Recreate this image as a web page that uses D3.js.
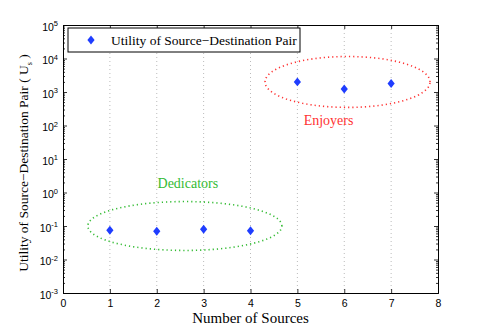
<!DOCTYPE html>
<html>
<head>
<meta charset="utf-8">
<script src="https://cdn.jsdelivr.net/npm/d3@7"></script>
<style>
  body { margin: 0; background: #fff; }
  svg { display: block; }
  text.serif { font-family: 'Liberation Serif', 'Times New Roman', serif !important; }
</style>
</head>
<body>
<svg width="485" height="331"></svg>
<script>
const sources = [1, 2, 3, 4, 5, 6, 7];
const utility = [0.075, 0.07, 0.08, 0.072, 2000, 1230, 1800];
const xTicks = [0, 1, 2, 3, 4, 5, 6, 7, 8];
const yExponents = [-3, -2, -1, 0, 1, 2, 3, 4, 5];
// groups: [label, center x, center log10 y, half width (x units), half height (decades), colour]
const groups = [
    ['Dedicators', 2.6, -1.0, 2.07, 0.73, '#33bb33'],
    ['Enjoyers', 6.07, 3.3, 1.76, 0.76, '#ff3333']
];

const SANS = "'Liberation Sans', Arial, sans-serif";

const margin = {left: 63, top: 25, right: 47, bottom: 38};
const width = 485 - margin.left - margin.right;
const height = 331 - margin.top - margin.bottom;

const svg = d3.select('svg');
const g = svg.append('g').attr('transform', `translate(${margin.left},${margin.top})`);

const x = d3.scaleLinear().domain([0, 8]).range([0, width]);
const y = d3.scaleLog().domain([1e-3, 1e5]).range([height, 0]);

// vertical dotted grid
g.selectAll('line.grid')
    .data(sources)
    .enter().append('line')
    .attr('x1', d => x(d)).attr('x2', d => x(d))
    .attr('y1', 0).attr('y2', height)
    .attr('stroke', '#bbb')
    .attr('stroke-width', 1)
    .attr('stroke-dasharray', '1,3');

// minor log ticks
const minor = [];
yExponents.slice(0, -1).forEach(e => {
    for (let k = 2; k <= 9; k++) minor.push(k * Math.pow(10, e));
});

const xAxis = d3.axisBottom(x).tickValues(xTicks).tickSize(-4).tickPadding(7).tickFormat(d3.format('d'));
const xTop = d3.axisTop(x).tickValues(xTicks).tickSize(-4).tickFormat('');
const yAxis = d3.axisLeft(y).tickValues(yExponents.map(e => Math.pow(10, e))).tickSize(-4).tickFormat('');
const yRight = d3.axisRight(y).tickValues(yExponents.map(e => Math.pow(10, e))).tickSize(-4).tickFormat('');
const yMinorL = d3.axisLeft(y).tickValues(minor).tickSize(-2).tickFormat('');
const yMinorR = d3.axisRight(y).tickValues(minor).tickSize(-2).tickFormat('');

function styleAxis(sel) {
    sel.attr('font-family', SANS).attr('font-size', 10.5);
    sel.select('.domain').attr('stroke', '#000').attr('stroke-width', 1);
    sel.selectAll('.tick line').attr('stroke', '#000').attr('stroke-width', 0.8);
    sel.selectAll('.tick text').attr('fill', '#000');
}

g.append('g').attr('transform', `translate(0,${height})`).call(xAxis).call(styleAxis);
g.append('g').call(xTop).call(styleAxis);
const yl = g.append('g').call(yAxis).call(styleAxis);
g.append('g').attr('transform', `translate(${width},0)`).call(yRight).call(styleAxis);
g.append('g').call(yMinorL).call(styleAxis).select('.domain').remove();
g.append('g').attr('transform', `translate(${width},0)`).call(yMinorR).call(styleAxis).select('.domain').remove();

// y tick labels as 10 with superscript exponent
yl.selectAll('.tick').each(function (d) {
    const t = d3.select(this).append('text')
        .attr('x', -13).attr('dy', '0.5em')
        .attr('text-anchor', 'end')
        .attr('fill', '#000');
    t.append('tspan').text('10');
    t.append('tspan').attr('dy', '-0.6em').attr('font-size', '7.5px').text(Math.round(Math.log10(d)));
    t.attr('transform', 'translate(8,0)');
});

// ellipses (drawn in data space)
groups.forEach(([label, cx, cy, rx, ry, colour]) => {
    const pts = d3.range(0, 2 * Math.PI + 0.01, Math.PI / 60).map(a => [
        x(cx + rx * Math.cos(a)),
        y(Math.pow(10, cy + ry * Math.sin(a)))
    ]);
    g.append('path')
        .attr('d', d3.line()(pts))
        .attr('fill', 'none')
        .attr('stroke', colour)
        .attr('stroke-width', 1.6)
        .attr('stroke-dasharray', '1.2,3');
});

// group labels
g.append('text').attr('class', 'serif')
    .attr('x', x(groups[0][1]) + 3).attr('y', y(Math.pow(10, groups[0][2] + groups[0][4])) - 14)
    .attr('text-anchor', 'middle').attr('font-size', '14px').attr('fill', groups[0][5])
    .text(groups[0][0]);
g.append('text').attr('class', 'serif')
    .attr('x', x(groups[1][1]) - 19).attr('y', y(Math.pow(10, groups[1][2] - groups[1][4])) + 18)
    .attr('text-anchor', 'middle').attr('font-size', '14px').attr('fill', groups[1][5])
    .text(groups[1][0]);

// data markers
const diamond = d3.symbol().type(d3.symbolDiamond).size(34);
const markerScale = 'scale(1.15,0.82)';
g.selectAll('path.pt')
    .data(sources)
    .enter().append('path')
    .attr('transform', (d, i) => `translate(${x(d)},${y(utility[i])}) ${markerScale}`)
    .attr('d', diamond)
    .attr('fill', '#1f3dff');

// legend
const lg = g.append('g').attr('transform', 'translate(5,3)');
lg.append('rect').attr('width', 232).attr('height', 24)
    .attr('fill', '#fff').attr('stroke', '#000').attr('stroke-width', 1);
lg.append('path').attr('d', diamond)
    .attr('transform', `translate(23,12) ${markerScale}`)
    .attr('fill', '#1f3dff');
lg.append('text').attr('class', 'serif')
    .attr('x', 43).attr('y', 16.5).attr('font-size', '13.5px')
    .text('Utility of Source\u2212Destination Pair');

// axis labels
svg.append('text').attr('class', 'serif')
    .attr('x', margin.left + width / 2).attr('y', 323)
    .attr('text-anchor', 'middle').attr('font-size', '15px')
    .text('Number of Sources');

const yLab = svg.append('text').attr('class', 'serif')
    .attr('transform', `translate(28,${margin.top + height / 2 + 4}) rotate(-90)`)
    .attr('text-anchor', 'middle').attr('font-size', '13.5px');
yLab.append('tspan').text('Utility of Source\u2212Destination Pair ( U');
yLab.append('tspan').attr('dy', '4').attr('font-size', '8px').text('s');
yLab.append('tspan').attr('dy', '-4').text(' )');
</script>
</body>
</html>
